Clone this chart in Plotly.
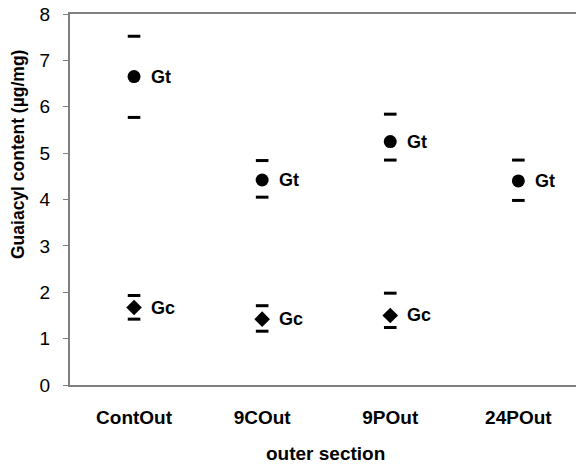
import plotly.graph_objects as go

categories = ["ContOut", "9COut", "9POut", "24POut"]
gt_mean = [6.65, 4.42, 5.25, 4.40]
gt_upper = [7.52, 4.84, 5.84, 4.85]
gt_lower = [5.77, 4.05, 4.85, 3.98]
gc_cats = ["ContOut", "9COut", "9POut"]
gc_mean = [1.67, 1.42, 1.50]
gc_upper = [1.93, 1.71, 1.98]
gc_lower = [1.42, 1.16, 1.24]
y_ticks = [0, 1, 2, 3, 4, 5, 6, 7, 8]
gt_label = "Gt"
gc_label = "Gc"

FONT = "Arial, Liberation Sans, sans-serif"
fig = go.Figure()

def caps(xs, ys):
    fig.add_trace(go.Scatter(x=xs, y=ys, mode="markers",
                             marker=dict(symbol="line-ew", size=9,
                                         line=dict(width=3, color="black")),
                             showlegend=False, hoverinfo="skip"))

caps(categories, gt_upper)
caps(categories, gt_lower)
caps(gc_cats, gc_upper)
caps(gc_cats, gc_lower)

fig.add_trace(go.Scatter(x=categories, y=gt_mean, mode="markers",
                         marker=dict(symbol="circle", size=13, color="black"),
                         showlegend=False))
fig.add_trace(go.Scatter(x=gc_cats, y=gc_mean, mode="markers",
                         marker=dict(symbol="diamond", size=12, color="black"),
                         showlegend=False))

for c, v in zip(categories, gt_mean):
    fig.add_annotation(x=c, y=v, text=gt_label, showarrow=False, xanchor="left",
                       xshift=15, font=dict(family=FONT, size=18, color="black", weight="bold"))
for c, v in zip(gc_cats, gc_mean):
    fig.add_annotation(x=c, y=v, text=gc_label, showarrow=False, xanchor="left",
                       xshift=15, font=dict(family=FONT, size=18, color="black", weight="bold"))

# axis titles (paper coords relative to plot area: left 70, top 14, bottom 385)
fig.add_annotation(xref="paper", yref="paper", x=(18 - 70) / 506, y=(385 - 155) / 371,
                   text="Guaiacyl content (µg/mg)", textangle=-90, showarrow=False,
                   xanchor="center", yanchor="middle",
                   font=dict(family=FONT, size=17.5, color="black", weight="bold"))
fig.add_annotation(xref="paper", yref="paper", x=(325 - 70) / 506, y=(385 - 453) / 371,
                   text="outer section", showarrow=False,
                   xanchor="center", yanchor="middle",
                   font=dict(family=FONT, size=19, color="black", weight="bold"))

fig.update_layout(
    width=576, height=465,
    margin=dict(l=70, r=0, t=14, b=80),
    plot_bgcolor="white", paper_bgcolor="white",
    font=dict(family=FONT, color="black"),
    hovermode=False,
    xaxis=dict(type="category", categoryorder="array", categoryarray=categories,
               range=[-0.5, 3.45], showline=True, linecolor="#808080", linewidth=2,
               mirror=True, showgrid=False, ticks="", zeroline=False, automargin=False,
               tickfont=dict(size=19, weight="bold"), ticklabelstandoff=14),
    yaxis=dict(range=[0, 8], tickvals=y_ticks, showline=True, linecolor="#808080",
               linewidth=2, showgrid=False, zeroline=False, ticks="outside",
               ticklen=5, tickcolor="#808080", tickfont=dict(size=19),
               ticklabelstandoff=9, automargin=False, ticklabeloverflow="allow"),
)

fig.write_html("out.html", config={"displayModeBar": False},
               post_script="document.body.style.margin='0';document.body.style.padding='0';")
